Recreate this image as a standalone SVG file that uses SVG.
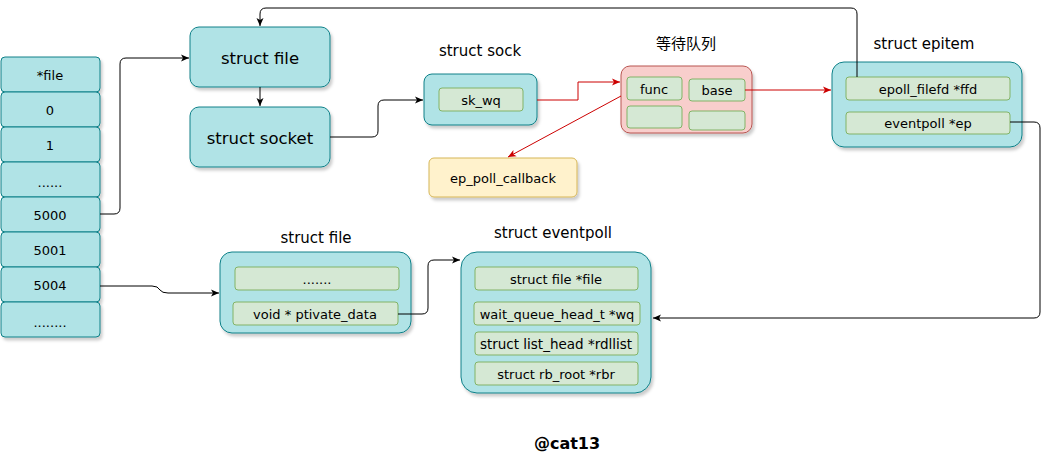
<svg xmlns="http://www.w3.org/2000/svg" width="1060" height="469" viewBox="0 0 1060 469">
<style>
text{font-family:"DejaVu Sans","Noto Sans CJK SC",sans-serif;fill:#000;text-anchor:middle;dominant-baseline:central}
.cell{fill:#b0e3e6;stroke:#0e8088;stroke-width:1}
.box{fill:#b0e3e6;stroke:#0e8088;stroke-width:1;filter:url(#sh)}
.in{fill:#d5e8d4;stroke:#82b366;stroke-width:1}
.q{fill:#f8cecc;stroke:#b85450;stroke-width:1;filter:url(#sh)}
.cb{fill:#fff2cc;stroke:#d6b656;stroke-width:1;filter:url(#sh)}
.t13{font-size:13px}
.t15{font-size:16.5px}
.lbl{font-size:15px}
.k{fill:none;stroke:#000;stroke-width:1}
.r{fill:none;stroke:#c00;stroke-width:1}
</style>
<defs>
<filter id="sh" x="-10%" y="-10%" width="130%" height="140%">
<feDropShadow dx="2" dy="3" stdDeviation="1.5" flood-color="#000" flood-opacity="0.2"/>
</filter>
<marker id="ak" markerWidth="10" markerHeight="10" refX="9" refY="5" orient="auto" markerUnits="userSpaceOnUse">
<path d="M1,1.5 L9,5 L1,8.5 L3,5 Z" fill="#000"/>
</marker>
<marker id="ar" markerWidth="10" markerHeight="10" refX="9" refY="5" orient="auto" markerUnits="userSpaceOnUse">
<path d="M1,1.5 L9,5 L1,8.5 L3,5 Z" fill="#c00"/>
</marker>
</defs>
<rect width="1060" height="469" fill="#fff"/>

<g id="fdtable">
<g filter="url(#sh)">
<rect class="cell" x="1" y="57" width="99" height="35" rx="4"/>
<rect class="cell" x="1" y="92" width="99" height="35" rx="4"/>
<rect class="cell" x="1" y="127" width="99" height="35" rx="4"/>
<rect class="cell" x="1" y="162" width="99" height="35" rx="4"/>
<rect class="cell" x="1" y="197" width="99" height="35" rx="4"/>
<rect class="cell" x="1" y="232" width="99" height="35" rx="4"/>
<rect class="cell" x="1" y="267" width="99" height="35" rx="4"/>
<rect class="cell" x="1" y="302" width="99" height="35" rx="4"/>
</g>
<text class="t13" x="50" y="75">*file</text>
<text class="t13" x="50" y="110">0</text>
<text class="t13" x="50" y="145">1</text>
<text class="t13" x="50" y="182">......</text>
<text class="t13" x="50" y="215">5000</text>
<text class="t13" x="50" y="250">5001</text>
<text class="t13" x="50" y="285">5004</text>
<text class="t13" x="50" y="322">........</text>
</g>

<g id="file1">
<rect class="box" x="190" y="27" width="140" height="60" rx="9"/>
<text class="t15" x="260" y="58">struct file</text>
</g>

<g id="socket">
<rect class="box" x="190" y="107" width="140" height="60" rx="9"/>
<text class="t15" x="260" y="138">struct socket</text>
</g>

<g id="sock">
<text class="lbl" x="480" y="51">struct sock</text>
<rect class="box" x="424" y="74" width="113" height="51" rx="8"/>
<rect class="in" x="439" y="88" width="84" height="23" rx="3"/>
<text class="t13" x="481" y="100">sk_wq</text>
</g>

<g id="waitqueue">
<text class="lbl" x="686" y="44">等待队列</text>
<rect class="q" x="621" y="66" width="131" height="67" rx="9"/>
<rect class="in" x="627" y="77" width="55" height="23" rx="3"/>
<text class="t13" x="654" y="89">func</text>
<rect class="in" x="689" y="79" width="56" height="22" rx="3"/>
<text class="t13" x="717" y="90">base</text>
<rect class="in" x="627" y="106" width="55" height="22" rx="3"/>
<rect class="in" x="689" y="111" width="56" height="19" rx="3"/>
</g>

<g id="callback">
<rect class="cb" x="429" y="158" width="148" height="39" rx="5"/>
<text class="t13" x="503" y="178">ep_poll_callback</text>
</g>

<g id="epitem">
<text class="lbl" x="924" y="44">struct epitem</text>
<rect class="box" x="832" y="62" width="190" height="85" rx="12"/>
<rect class="in" x="846" y="77" width="164" height="23" rx="3"/>
<text class="t13" x="928" y="89">epoll_filefd *ffd</text>
<rect class="in" x="846" y="112" width="164" height="22" rx="3"/>
<text class="t13" x="928" y="123">eventpoll *ep</text>
</g>

<g id="file2">
<text class="lbl" x="316" y="238">struct file</text>
<rect class="box" x="220" y="252" width="191" height="81" rx="12"/>
<rect class="in" x="235" y="267" width="164" height="23" rx="3"/>
<text class="t13" x="317" y="279">.......</text>
<rect class="in" x="233" y="302" width="165" height="23" rx="3"/>
<text class="t13" x="315" y="314">void * ptivate_data</text>
</g>

<g id="eventpoll">
<text class="lbl" x="553" y="233">struct eventpoll</text>
<rect class="box" x="461" y="252" width="190" height="141" rx="16"/>
<rect class="in" x="475" y="267" width="163" height="23" rx="3"/>
<text class="t13" x="556" y="279">struct file *file</text>
<rect class="in" x="474" y="302" width="166" height="23" rx="3"/>
<text class="t13" x="557" y="314">wait_queue_head_t *wq</text>
<rect class="in" x="475" y="332" width="163" height="23" rx="3"/>
<text class="t13" x="556" y="344" style="font-size:13.5px">struct list_head *rdllist</text>
<rect class="in" x="475" y="362" width="163" height="23" rx="3"/>
<text class="t13" x="556" y="374">struct rb_root *rbr</text>
</g>

<g id="connectors">
<path class="k" d="M100,214 H114 Q120,214 120,208 V64 Q120,58 126,58 H189" marker-end="url(#ak)"/>
<path class="k" d="M260,87 V106" marker-end="url(#ak)"/>
<path class="k" d="M330,137 H372 Q378,137 378,131 V106 Q378,100 384,100 H423" marker-end="url(#ak)"/>
<path class="r" d="M537,100 H578 V82 H620" marker-end="url(#ar)"/>
<path class="r" d="M621,96 L508,157" marker-end="url(#ar)"/>
<path class="r" d="M745,90 H831" marker-end="url(#ar)"/>
<path class="k" d="M857,77 V14 Q857,8 851,8 H266 Q260,8 260,14 V26" marker-end="url(#ak)"/>
<path class="k" d="M1010,122 H1034 Q1040,122 1040,128 V312 Q1040,318 1034,318 H653" marker-end="url(#ak)"/>
<path class="k" d="M100,286 H152 Q158,286 160,290 Q162,293 168,293 H219" marker-end="url(#ak)"/>
<path class="k" d="M398,314 H422 Q428,314 428,308 V266 Q428,260 434,260 H460" marker-end="url(#ak)"/>
</g>

<text x="567" y="443" style="font-size:16px;font-weight:bold">@cat13</text>
</svg>
